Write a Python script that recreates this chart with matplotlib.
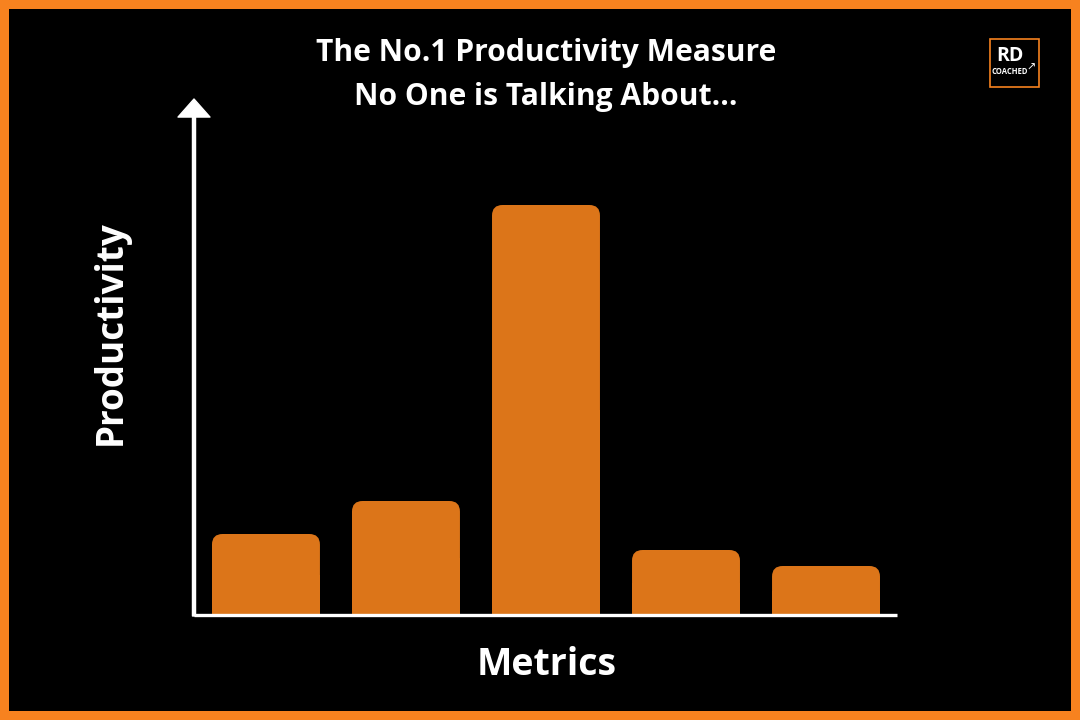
import matplotlib.pyplot as plt
from matplotlib.patches import Rectangle, FancyBboxPatch

# data
metrics = ['A', 'B', 'C', 'D', 'E']
productivity = [81, 114, 410, 65, 49]

title = 'The No.1 Productivity Measure\nNo One is Talking About...'
orange_border = '#F7821F'
bar_color = '#DC7519'

plt.rcParams['font.family'] = ['Open Sans', 'DejaVu Sans']

W, H = 1080, 720
fig = plt.figure(figsize=(10.8, 7.2), dpi=100, facecolor=orange_border)

# black inner panel
fig.patches.append(Rectangle((9 / W, 9 / H), (W - 18) / W, (H - 18) / H,
                             transform=fig.transFigure, facecolor='black',
                             edgecolor='none', zorder=-5))

# axes: left x=194, right 897, baseline y=615, top y=115 (pixels from top)
ax = fig.add_axes([194 / W, (H - 615) / H, (897 - 194) / W, 500 / H])
ax.set_zorder(2)
ax.set_facecolor('none')
ax.set_xlim(-0.514, 4.507)
ax.set_ylim(0, 500)
for s in ax.spines.values():
    s.set_visible(False)
ax.set_xticks([])
ax.set_yticks([])

x = list(range(len(metrics)))
bars = ax.bar(x, productivity, width=0.771, color=bar_color)
for b in bars:
    bx, by = b.get_x(), b.get_y()
    bw, bh = b.get_width(), b.get_height()
    b.set_visible(False)
    ax.add_patch(FancyBboxPatch((bx, by), bw, bh,
                                boxstyle='round,pad=0,rounding_size=0.075',
                                mutation_aspect=140, facecolor=bar_color,
                                edgecolor='none'))
    ax.add_patch(Rectangle((bx, by), bw, bh / 2, facecolor=bar_color,
                           edgecolor='none'))

# axis lines
ax.plot([-0.514, 4.507], [0, 0], color='white', lw=2.4, clip_on=False,
        solid_capstyle='butt')
ax.annotate('', xy=(-0.514, 516), xytext=(-0.514, -1),
            arrowprops=dict(width=2.2, headwidth=23, headlength=13,
                            shrink=0, facecolor='white', edgecolor='white'),
            annotation_clip=False)

# texts
fig.text(546 / W, 1 - 75 / H, title, ha='center', va='center', color='white',
         fontsize=21.6, fontweight='bold', linespacing=1.6)
fig.text(111 / W, 1 - 333 / H, 'Productivity', rotation=90, ha='center',
         va='center', color='white', fontsize=26.6, fontweight='bold')
fig.text(547 / W, 1 - 665 / H, 'Metrics', ha='center', va='center',
         color='white', fontsize=27, fontweight='bold')

# logo
fig.patches.append(Rectangle((990 / W, 1 - 87 / H), 49 / W, 48 / H,
                             transform=fig.transFigure, facecolor='black',
                             edgecolor=orange_border, lw=1.2, zorder=3))
fig.text(1010 / W, 1 - 56 / H, 'RD', ha='center', va='center', color='white',
         fontsize=14, fontweight='bold', zorder=4)
fig.text(1010 / W, 1 - 72 / H, 'COACHED', ha='center', va='center',
         color='white', fontsize=5.5, fontweight='bold', zorder=4)
fig.text(1031 / W, 1 - 68 / H, '\u2197', ha='center', va='center',
         color='white', fontsize=8, zorder=4, family='DejaVu Sans')

fig.savefig('out.png', dpi=100, facecolor=orange_border)
